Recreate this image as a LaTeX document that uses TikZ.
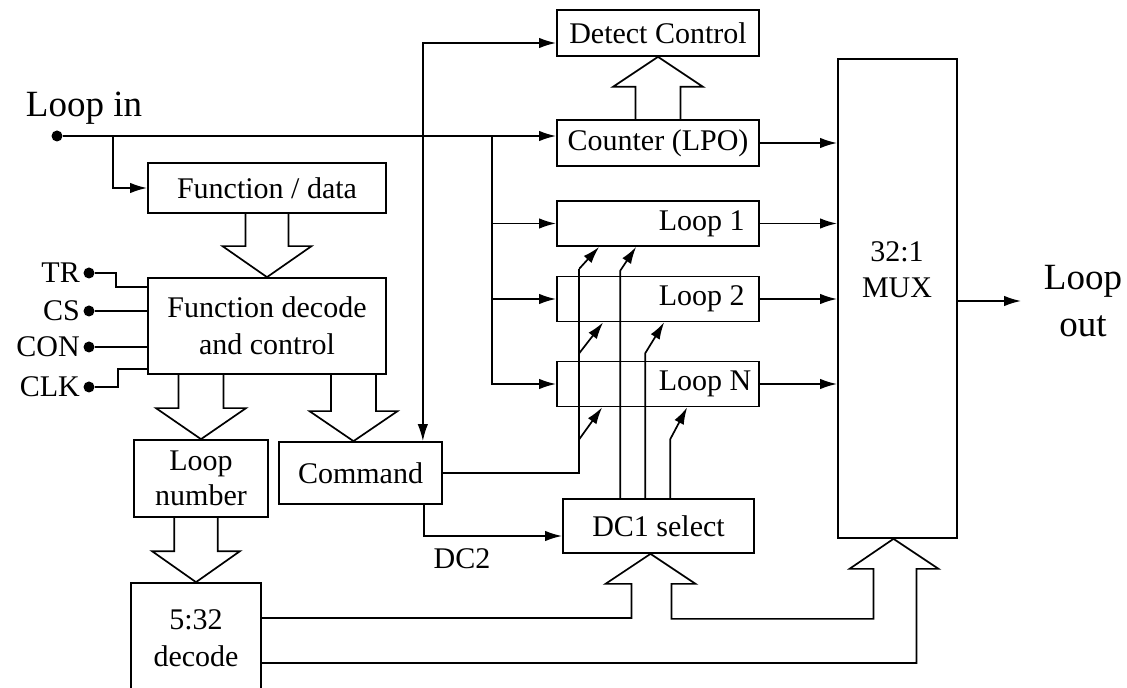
\documentclass[tikz,border=0pt]{standalone}
\usepackage{fontspec}
\setmainfont{Liberation Serif}
\usetikzlibrary{calc,arrows.meta}
\newcommand\busv[5]{\draw[bus] ($(#1)+(-#3,0)$) -- ($(#2)+(-#3,#5)$) -- ($(#2)+(-#4,#5)$) -- (#2) -- ($(#2)+(#4,#5)$) -- ($(#2)+(#3,#5)$) -- ($(#1)+(#3,0)$);}
\begin{document}
\begin{tikzpicture}[x=0.5pt,y=-0.5pt, line width=0.85pt,
 >={Latex[length=8.5pt,width=5.2pt]},
 blk/.style={draw, inner sep=0pt, font=\fontsize{15}{17.5}\selectfont, align=center},
 txt/.style={inner sep=0pt, font=\fontsize{15}{17.5}\selectfont, align=center},
 bus/.style={line join=miter},
 dot/.style={circle, fill, inner sep=0pt, minimum size=5.5pt},
 inpt/.style={dot, label distance=3.5pt, label={[txt, inner sep=1pt]left:#1}}
]
\useasboundingbox (0,0) rectangle (1127,688);

% boxes
\node[blk, minimum width=101pt, minimum height=23pt] (det) at (658,33) {Detect Control};
\node[blk, minimum width=101pt, minimum height=23pt] (cnt) at (658,143) {Counter (LPO)};
\node[blk, minimum width=101pt, minimum height=22.5pt] (l1) at (658,223.5) {};
\node[blk, minimum width=101pt, minimum height=22.5pt] (l2) at (658,299) {};
\node[blk, minimum width=101pt, minimum height=22.5pt] (lN) at (658,384) {};
\node[txt, anchor=west] (t1) at (l1.center) {Loop 1};
\node[txt, anchor=west] (t2) at (l2.center) {Loop 2};
\node[txt, anchor=west] (tN) at (lN.center) {Loop N};
\node[blk, minimum width=59.5pt, minimum height=239.5pt] (mux) at (897.5,298.5) {};
\node[txt, font=\fontsize{15}{18}\selectfont] (muxt) at (897,270) {32:1\\MUX};
\node[txt, font=\fontsize{18.5}{23.3}\selectfont] (lout) at (1083,301) {Loop\\out};
\node[blk, minimum width=119pt, minimum height=25pt] (fd) at (267,188) {Function / data};
\node[blk, minimum width=119pt, minimum height=48pt, font=\fontsize{15}{18.5}\selectfont] (fdc) at (267,326) {Function decode\\and control};
\node[blk, minimum width=67pt, minimum height=38.5pt] (ln) at (201,478.5) {Loop\\number};
\node[blk, minimum width=81.5pt, minimum height=31pt] (cmd) at (360.5,473) {Command};
\node[blk, minimum width=65pt, minimum height=55pt, font=\fontsize{15}{18.5}\selectfont] (dec) at (196,638) {5:32\\decode};
\node[blk, minimum width=95.5pt, minimum height=27pt] (dc1) at (658.5,526) {DC1 select};
\node[txt] (dc2) at (462,559) {DC2};

% inputs
\node[dot] (lin) at (57,136) {};
\node[txt, font=\fontsize{18.5}{22}\selectfont] (linl) at (84,108) {Loop in};
\node[inpt=TR] (tr) at (89,273) {};
\node[inpt=CS] (cs) at (89,311) {};
\node[inpt=CON] (con) at (89,347) {};
\node[inpt=CLK] (clk) at (89,387) {};

\draw (tr) -- ++(27,0) |- ($(fdc.north west)+(0,10)$);
\draw (cs) -- (cs -| fdc.west);
\draw (con) -- (con -| fdc.west);
\draw (clk) -- ++(29,0) |- ($(fdc.south west)+(0,-6)$);

% loop in distribution
\draw[->] (lin) -- (lin -| cnt.west);
\coordinate (j1) at ($(lin)+(56,0)$);
\draw[->] (j1) |- (fd.west);
\coordinate (j2) at ($(lin)+(435,0)$);
\draw[->] (j2) |- (lN.west);
\draw[->] (j2 |- l1.west) -- (l1.west);
\draw[->] (j2 |- l2.west) -- (l2.west);

% detect control / command
\draw[<->] ($(cmd.north east)+(-20,0)$) |- ($(det.west)+(0,10)$);

% to MUX
\draw[->] (cnt.east) -- (cnt.east -| mux.west);
\draw[->] (l1.east) -- (l1.east -| mux.west);
\draw[->] (l2.east) -- (l2.east -| mux.west);
\draw[->] (lN.east) -- (lN.east -| mux.west);
\draw[->] (mux.east |- lout.west) -- ($(lout.west)+(-22,0)$);

% command to loops
\coordinate (c1) at ($(l1.south west)+(23,22)$);
\coordinate (c2) at ($(l2.south west)+(23,31)$);
\coordinate (c3) at ($(lN.south west)+(23,32)$);
\draw (cmd.east) -| (c1);
\draw[->] (c1) -- ++(20,-22);
\draw[->] (c2) -- ++(24,-31);
\draw[->] (c3) -- ++(23,-32);

% DC1 select to loops
\coordinate (s1) at ($(l1.south west)+(64,24)$);
\coordinate (s2) at ($(l2.south west)+(89,31)$);
\coordinate (s3) at ($(lN.south west)+(114,32)$);
\draw[->] (s1 |- dc1.north) -- (s1) -- ++(16,-24);
\draw[->] (s2 |- dc1.north) -- (s2) -- ++(19,-31);
\draw[->] (s3 |- dc1.north) -- (s3) -- ++(17,-32);

% DC2
\draw[->] ($(cmd.south east)+(-19,0)$) |- ($(dc1.west)+(0,10)$);

% bus arrows
\busv{fd.south}{fdc.north}{21.5}{44.5}{-31}
\coordinate (b2s) at (fdc.south -| ln.north);
\busv{b2s}{ln.north}{22.5}{45}{-31}
\coordinate (t3) at ($(cmd.north)+(-7,0)$);
\coordinate (b3s) at (fdc.south -| t3);
\busv{b3s}{t3}{22.5}{44}{-30}
\coordinate (b4s) at (ln.south -| dec.north);
\busv{b4s}{dec.north}{21.7}{44}{-31}
\busv{cnt.north}{det.south}{22.5}{45}{30}

\coordinate (tA) at ($(dc1.south)+(-8,0)$);
\coordinate (tB) at ($(mux.south)+(-4,0)$);
\coordinate (d1) at ($(dec.east)+(0,-20)$);
\coordinate (d2) at ($(dec.east)+(0,25)$);
\draw[bus] (d1) -| ($(tA)+(-19,30)$) -- ++(-26,0) -- (tA) -- ($(tA)+(45,30)$) -- ++(-24,0) -- ++(0,35) -| ($(tB)+(-20,30)$) -- ++(-24,0) -- (tB) -- ($(tB)+(45,30)$) -- ++(-22,0) |- (d2);
\end{tikzpicture}
\end{document}
